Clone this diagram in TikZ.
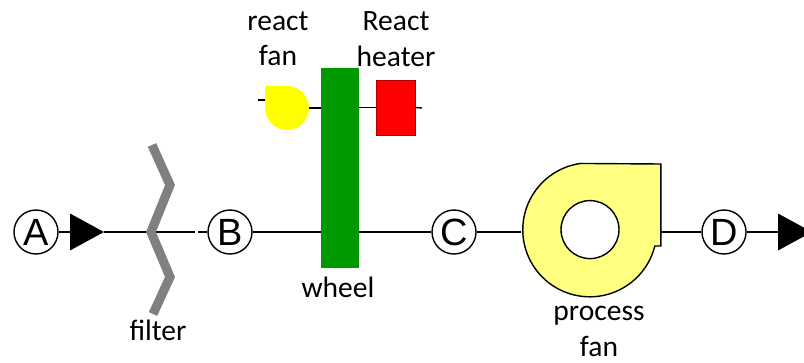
\documentclass[tikz,border=0pt]{standalone}
\usepackage{fontspec}
\setmainfont{Carlito}
\newfontfamily\streamfont{Liberation Sans}
\usepackage{xcolor}
\usetikzlibrary{shapes.geometric,positioning,calc}

\definecolor{wheelgreen}{HTML}{009900}
\definecolor{heaterred}{HTML}{FF0000}
\definecolor{heateredge}{HTML}{B00000}
\definecolor{fanyellow}{HTML}{FFFF80}
\definecolor{reactyellow}{HTML}{FFFF00}
\definecolor{filtergray}{HTML}{808080}

\tikzset{
  pipe/.style={line width=1pt},
  stream/.style={circle, draw, line width=1pt, fill=white, minimum size=1.1cm, inner sep=0pt, font=\streamfont\fontsize{27}{27}\selectfont},
  flowtip/.style={isosceles triangle, isosceles triangle stretches, fill=black, minimum width=0.925cm, minimum height=0.85cm, inner sep=0pt, outer sep=0pt, anchor=apex},
  lbl/.style={align=center, inner sep=0pt, font=\fontsize{21}{25.5}\selectfont}
}

\begin{document}
\begin{tikzpicture}
  \clip (0,0) rectangle (20.1,9.05);

  % stream markers and arrows
  \node[stream] (streamA) at (0.9, 3.25) {A};
  \node[stream] (streamB) at (5.75, 3.25) {B};
  \node[stream] (streamC) at (11.35, 3.25) {C};
  \node[stream] (streamD) at (18.1, 3.25) {D};
  \node[flowtip] (arrowIn) at (2.6, 3.25) {};
  \node[flowtip] (arrowOut) at (20.3, 3.25) {};

  % filter
  \coordinate (filterMid) at (3.775, 3.25);
  \coordinate (filterGap) at (4.875, 3.25);
  \coordinate (filterGapEnd) at (4.95, 3.25);
  \draw[pipe] (streamA.east) -- (arrowIn.lower side);
  \draw[pipe] (arrowIn.apex) -- (filterMid) -- (filterGap);
  \draw[pipe] (filterGapEnd) -- (streamB.west);
  \draw[filtergray, line width=6.5pt] (3.8, 5.425) -- (4.25, 4.425) -- (filterMid) -- (4.25, 2.125) -- (3.825, 1.2);
  \node[lbl] (filterLbl) at (3.95, 0.8) {filter};

  % wheel and reactivation side
  \node[rectangle, fill=wheelgreen, minimum width=0.95cm, minimum height=5cm, inner sep=0pt] (wheel) at (8.5, 4.85) {};
  \draw[pipe] (streamB.east) -- (streamB.east -| wheel.west);
  \draw[pipe] (streamC.west -| wheel.east) -- (streamC.west);
  \node[lbl] (wheelLbl) at (8.45, 1.875) {wheel};

  \node[circle, fill=reactyellow, minimum size=1.1cm, inner sep=0pt] (reactFan) at (7.175, 6.35) {};
  \fill[reactyellow] (reactFan.west) rectangle (reactFan.north);
  \coordinate (reactTick) at (6.45, 6.55);
  \draw[pipe] (reactTick) -- (reactFan.west |- reactTick);
  \draw[pipe] (reactFan.east) -- (reactFan.east -| wheel.west);
  \node[lbl] (reactFanLbl) at (6.95, 8.08) {react\\fan};

  \node[rectangle, draw=heateredge, line width=0.7pt, fill=heaterred, minimum width=0.975cm, minimum height=1.375cm, inner sep=0pt] (heater) at (9.89, 6.3625) {};
  \coordinate (heaterOut) at (10.55, 6.35);
  \draw[pipe] (heater.west -| wheel.east) -- (heater.west);
  \draw[pipe] (heater.east) -- (heaterOut);
  \node[lbl] (heaterLbl) at (9.9, 8.08) {React\\heater};

  % process fan
  \coordinate (fanIn) at (13.03, 3.25);
  \coordinate (fanOut) at (16.52, 3.25);
  \draw[pipe] (streamC.east) -- (fanIn);
  \draw[pipe] (fanOut) -- (streamD.west);
  \draw[pipe] (streamD.east) -- (arrowOut.lower side);
  \draw[pipe, fill=fanyellow] (16.52, 4.95) -- (16.52, 2.9) -- (16.37, 2.9) arc[start angle=-14, end angle=-262, radius=1.675] -- cycle;
  \node[circle, draw, line width=1pt, fill=white, minimum size=1.45cm, inner sep=0pt] (fanHub) at (14.75, 3.31) {};
  \node[lbl] (fanLbl) at (14.975, 0.77) {process\\fan};
\end{tikzpicture}
\end{document}
